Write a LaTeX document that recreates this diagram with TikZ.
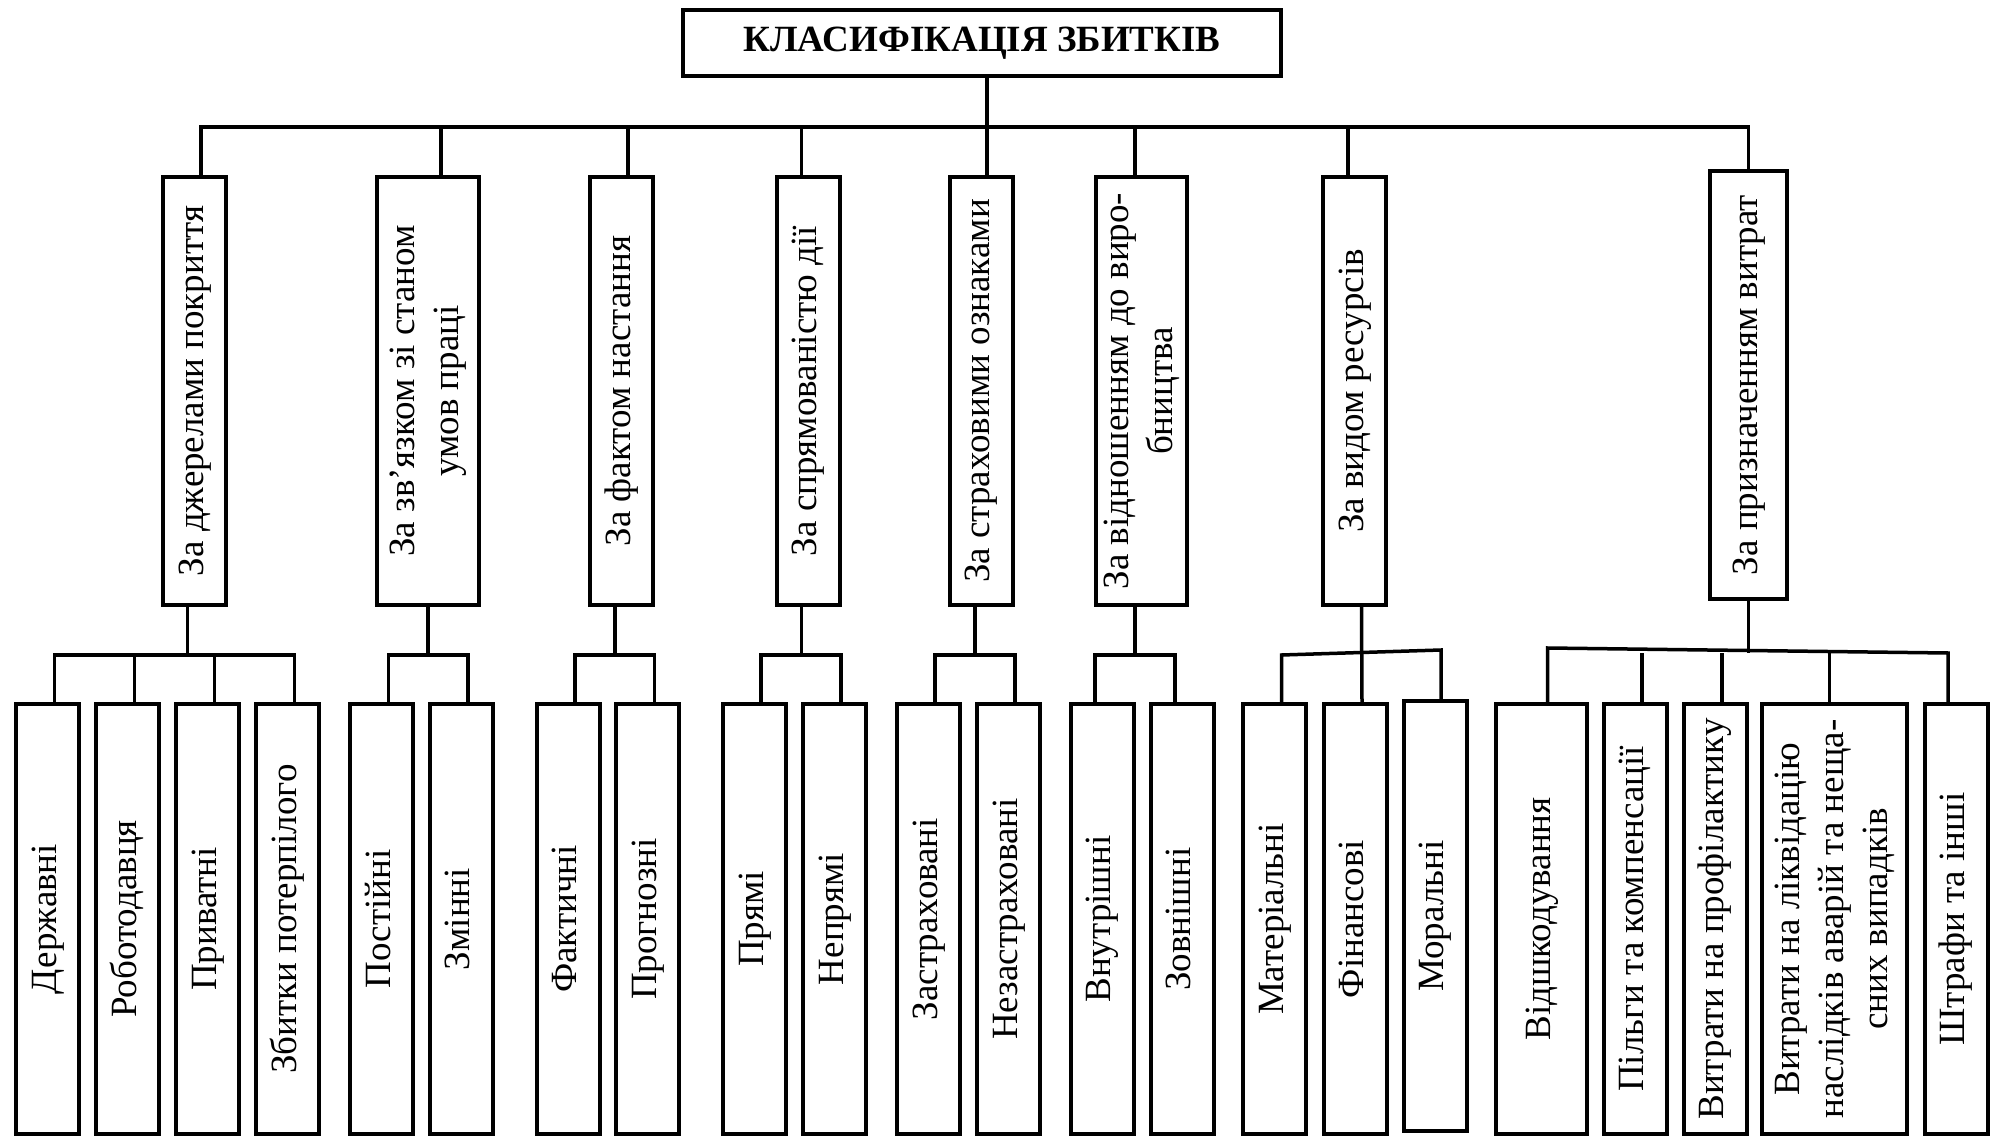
\documentclass[tikz,border=0pt]{standalone}
\usepackage{fontspec}
\setmainfont{Liberation Serif}
\usetikzlibrary{positioning}
\newcommand{\vtext}[1]{\rotatebox{90}{\begin{tabular}{@{}c@{}}#1\end{tabular}}}

\begin{document}
\begin{tikzpicture}[x=1pt,y=-1pt,
    font=\fontsize{37}{44}\selectfont,
    crit/.style={draw,line width=4pt,inner sep=0pt,minimum width=63pt,minimum height=428pt},
    kind/.style={draw,line width=4pt,inner sep=0pt,minimum width=63pt,minimum height=430pt},
    link/.style={line width=3.5pt,line cap=rect}]
    \useasboundingbox (0,0) rectangle (1997,1139);

    \node[draw,line width=4pt,minimum width=598pt,minimum height=66pt,
          font=\fontsize{37}{40}\selectfont\bfseries] (title) at (982,43) {КЛАСИФІКАЦІЯ ЗБИТКІВ};

    \node[crit]                   (k1) at (194.5,391) {\vtext{За джерелами покриття}};
    \node[crit,minimum width=102pt] (k2) at (428,391)   {\vtext{За зв’язком зі станом\\умов праці}};
    \node[crit]                   (k3) at (621.5,391) {\vtext{За фактом настання}};
    \node[crit]                   (k4) at (808,391)   {\vtext{За спрямованістю дії}};
    \node[crit]                   (k5) at (981,391)   {\vtext{За страховими ознаками}};
    \node[crit,minimum width=91pt]  (k6) at (1141.5,391) {\vtext{За відношенням до виро-\\бництва}};
    \node[crit]                   (k7) at (1354.5,391) {\vtext{За видом ресурсів}};
    \node[crit,minimum width=77pt]  (k8) at (1748.5,385) {\vtext{За призначенням витрат}};

    \node[kind] (s11) at (47.5,919)  {\vtext{Державні}};
    \node[kind] (s12) at (127.5,919) {\vtext{Роботодавця}};
    \node[kind] (s13) at (207.5,919) {\vtext{Приватні}};
    \node[kind] (s14) at (287.5,919) {\vtext{Збитки потерпілого}};
    \node[kind] (s21) at (381.5,919) {\vtext{Постійні}};
    \node[kind] (s22) at (461,919)   {\vtext{Змінні}};
    \node[kind] (s31) at (568,919)   {\vtext{Фактичні}};
    \node[kind] (s32) at (647.5,919) {\vtext{Прогнозні}};
    \node[kind] (s41) at (754.5,919) {\vtext{Прямі}};
    \node[kind] (s42) at (834.5,919) {\vtext{Непрямі}};
    \node[kind] (s51) at (928.5,919) {\vtext{Застраховані}};
    \node[kind] (s52) at (1008.5,919) {\vtext{Незастраховані}};
    \node[kind] (s61) at (1102,919)  {\vtext{Внутрішні}};
    \node[kind] (s62) at (1182,919)  {\vtext{Зовнішні}};
    \node[kind] (s71) at (1274.5,919) {\vtext{Матеріальні}};
    \node[kind] (s72) at (1355,919)  {\vtext{Фінансові}};
    \node[kind] (s73) at (1435,916)  {\vtext{Моральні}};
    \node[kind,minimum width=91pt]  (s81) at (1541.5,919) {\vtext{Відшкодування}};
    \node[kind] (s82) at (1635,919)  {\vtext{Пільги та компенсації}};
    \node[kind] (s83) at (1715,919)  {\vtext{Витрати на профілактику}};
    \node[kind,minimum width=145pt] (s84) at (1834.5,919) {\vtext{Витрати на ліквідацію\\наслідків аварій та неща-\\сних випадків}};
    \node[kind] (s85) at (1956,919)  {\vtext{Штрафи та інші}};

    \coordinate (bus)  at (0,127);
    \coordinate (sbus) at (0,655);

    \draw[link] ([xshift=6pt]k5.north) -- ([xshift=6pt]k5.north |- title.south);
    \draw[link] ([xshift=6.5pt]k1.north) -- ([xshift=6.5pt]k1.north |- bus) -- (k8.north |- bus) -- (k8.north);
    \foreach \k/\dx in {k2/13pt,k3/6.5pt,k4/-6.5pt,k6/-6.5pt,k7/-6.5pt}
        \draw[link] ([xshift=\dx]\k.north) -- ([xshift=\dx]\k.north |- bus);

    \foreach \k/\kd/\a/\ad/\b/\bd in {k1/-7pt/s11/7pt/s14/7pt,k2/0pt/s21/7pt/s22/7pt,
            k3/-6.5pt/s31/7pt/s32/7pt,k4/-6.5pt/s41/6.5pt/s42/6.5pt,k5/-6pt/s51/6.5pt/s52/6.5pt,
            k6/-6.5pt/s61/-7pt/s62/-7pt} {
        \draw[link] ([xshift=\kd]\k.south) -- ([xshift=\kd]\k.south |- sbus);
        \draw[link] ([xshift=\ad]\a.north) -- ([xshift=\ad]\a.north |- sbus)
            -- ([xshift=\bd]\b.north |- sbus) -- ([xshift=\bd]\b.north);
    }
    \foreach \s in {s12,s13}
        \draw[link] ([xshift=7pt]\s.north) -- ([xshift=7pt]\s.north |- sbus);

    \draw[link] ([xshift=7pt]k7.south) -- ([xshift=7pt]s72.north);
    \draw[link] ([xshift=7pt]s71.north) -- ++(0,-47) -- ([xshift=6pt,yshift=49pt]s73.north) -- ([xshift=6pt]s73.north);

    \draw[link] (k8.south) -- (k8.south |- 0,651);
    \draw[link] ([xshift=6pt]s81.north) -- ++(0,-54) -- ([xshift=-8pt,yshift=49pt]s85.north) -- ([xshift=-8pt]s85.north);
    \foreach \s/\dx in {s82/7pt,s83/7pt,s84/-5pt}
        \draw[link] ([xshift=\dx]\s.north) -- ([xshift=\dx]\s.north |- sbus);
\end{tikzpicture}
\end{document}
